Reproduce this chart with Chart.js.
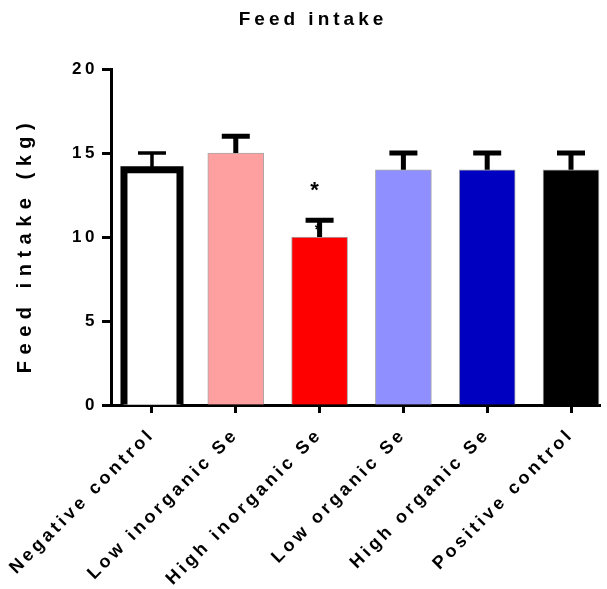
<!DOCTYPE html>
<html>
<head>
<meta charset="utf-8">
<script src="https://cdn.jsdelivr.net/npm/chart.js@4.4.0/dist/chart.umd.min.js"></script>
<style>
  html, body { margin: 0; padding: 0; background: #fff; }
  canvas { display: block; }
</style>
</head>
<body>
<canvas id="feedChart" width="607" height="589"></canvas>
<script>
const groups = ['Negative control', 'Low inorganic Se', 'High inorganic Se', 'Low organic Se', 'High organic Se', 'Positive control'];
const feedIntake = [14, 15, 10, 14, 14, 14];
const feedError = [1, 1, 1, 1, 1, 1];
const barColors = ['#ffffff', '#ffa0a0', '#ff0000', '#8f8fff', '#0000c0', '#000000'];
const yTicks = [0, 5, 10, 15, 20];
const significant = [2]; // bars marked with *

const FONT = '"Liberation Sans", Arial, sans-serif';
const TICK_SPACING = '3.5px';

// stroke, error bars, asterisks and the spaced-out titles
const extrasPlugin = {
    id: 'extras',
    beforeUpdate(chart) { chart.ctx.letterSpacing = TICK_SPACING; },
    beforeLayout(chart) { chart.ctx.letterSpacing = TICK_SPACING; },
    beforeDraw(chart) { chart.ctx.letterSpacing = TICK_SPACING; },
    afterDatasetsDraw(chart) {
        const { ctx, scales: { y } } = chart;
        const bars = chart.getDatasetMeta(0).data;
        ctx.save();
        ctx.letterSpacing = '0px';

        // negative control: thick black frame centred on the bar edge
        const b = bars[0];
        const half = b.width / 2;
        ctx.strokeStyle = '#000';
        ctx.lineWidth = 7;
        ctx.lineJoin = 'miter';
        ctx.beginPath();
        ctx.moveTo(b.x - half, b.base);
        ctx.lineTo(b.x - half, b.y);
        ctx.lineTo(b.x + half, b.y);
        ctx.lineTo(b.x + half, b.base);
        ctx.stroke();

        // asterisks (drawn first, the stem covers the small one)
        ctx.fillStyle = '#000';
        ctx.textAlign = 'center';
        ctx.textBaseline = 'middle';
        significant.forEach(i => {
            const capY = y.getPixelForValue(feedIntake[i] + feedError[i]);
            ctx.font = 'bold 22px ' + FONT;
            ctx.fillText('*', bars[i].x - 5, capY - 29);
            ctx.font = 'bold 14px ' + FONT;
            ctx.fillText('*', bars[i].x - 2, bars[i].y - 7);
        });

        // error bars (upper only)
        ctx.lineCap = 'butt';
        bars.forEach((bar, i) => {
            const top = y.getPixelForValue(feedIntake[i] + feedError[i]);
            ctx.lineWidth = i === 0 ? 3.5 : 5;
            ctx.beginPath();
            ctx.moveTo(bar.x, bar.y);
            ctx.lineTo(bar.x, top);
            ctx.moveTo(bar.x - 14, top);
            ctx.lineTo(bar.x + 14, top);
            ctx.stroke();
        });
        ctx.restore();
    },
    afterDraw(chart) {
        const { ctx, chartArea } = chart;
        ctx.save();
        ctx.fillStyle = '#000';
        ctx.textAlign = 'center';
        ctx.textBaseline = 'middle';

        ctx.letterSpacing = '4px';
        ctx.font = 'bold 19px ' + FONT;
        ctx.fillText('Feed intake', 313, 20);

        ctx.letterSpacing = '6.5px';
        ctx.font = 'bold 20px ' + FONT;
        ctx.translate(25, (chartArea.top + chartArea.bottom) / 2 + 8);
        ctx.rotate(-Math.PI / 2);
        ctx.fillText('Feed intake (kg)', 0, 0);
        ctx.restore();
    }
};

const ctx = document.getElementById('feedChart').getContext('2d');
new Chart(ctx, {
    type: 'bar',
    data: {
        datasets: [{
            data: feedIntake.map((v, i) => ({ x: i, y: v })),
            backgroundColor: barColors,
            borderColor: barColors.map((c, i) => i === 0 ? 'rgba(0,0,0,0)' : '#a8a8a8'),
            borderWidth: barColors.map((c, i) => i === 0 ? 0 : 1),
            borderSkipped: 'bottom',
            barThickness: 56
        }]
    },
    options: {
        responsive: false,
        animation: false,
        layout: { padding: { top: 69, right: 7, left: 0, bottom: 0 } },
        plugins: {
            legend: { display: false },
            tooltip: { enabled: false },
            title: { display: false }
        },
        scales: {
            x: {
                type: 'linear',
                offset: false,
                min: -0.489,
                max: 5.346,
                afterFit: s => { s.height = 184; s.paddingLeft = 0; s.paddingRight = 0; },
                afterBuildTicks: s => { s.ticks = groups.map((_, i) => ({ value: i })); },
                border: { color: '#000', width: 3 },
                grid: { offset: false, drawOnChartArea: false, drawTicks: true, tickLength: 8, tickWidth: 3, tickColor: '#000', color: '#000' },
                ticks: {
                    autoSkip: false,
                    minRotation: 45,
                    maxRotation: 45,
                    padding: 11,
                    color: '#000',
                    font: { family: FONT, size: 18, weight: 'bold' },
                    callback: v => groups[v]
                }
            },
            y: {
                min: 0,
                max: 20,
                afterFit: s => { s.width = 111; },
                afterBuildTicks: s => { s.ticks = yTicks.map(v => ({ value: v })); },
                border: { color: '#000', width: 3 },
                grid: { drawOnChartArea: false, drawTicks: true, tickLength: 9, tickWidth: 3, tickColor: '#000', color: '#000' },
                ticks: {
                    padding: 4,
                    color: '#000',
                    font: { family: FONT, size: 17, weight: 'bold' }
                }
            }
        }
    },
    plugins: [extrasPlugin]
});
</script>
</body>
</html>
